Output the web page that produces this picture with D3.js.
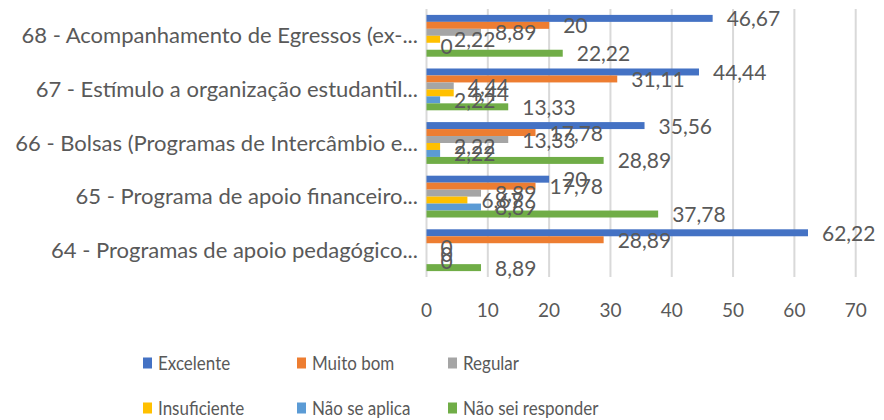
<!DOCTYPE html>
<html><head><meta charset="utf-8">
<script src="https://cdn.jsdelivr.net/npm/d3@7/dist/d3.min.js"></script>
<style>
html,body{margin:0;padding:0;background:#fff;}
svg{display:block;font-family:Lato,"Open Sans",sans-serif;}
</style></head>
<body>
<svg id="chart" width="884" height="420"></svg>
<script>
const categories = [
  "68 - Acompanhamento de Egressos (ex-...",
  "67 - Estímulo a organização estudantil...",
  "66 - Bolsas (Programas de Intercâmbio e...",
  "65 - Programa de apoio financeiro...",
  "64 - Programas de apoio pedagógico..."
];
const seriesNames = ["Excelente","Muito bom","Regular","Insuficiente","Não se aplica","Não sei responder"];
const seriesColors = ["#4472C4","#ED7D31","#A5A5A5","#FFC000","#5B9BD5","#70AD47"];
const excelente      = [46.67, 44.44, 35.56, 20,    62.22];
const muitoBom       = [20,    31.11, 17.78, 17.78, 28.89];
const regular        = [8.89,  4.44,  13.33, 8.89,  0];
const insuficiente   = [2.22,  4.44,  2.22,  6.67,  0];
const naoSeAplica    = [0,     2.22,  2.22,  8.89,  0];
const naoSeiResponder= [22.22, 13.33, 28.89, 37.78, 8.89];
const xTicks = [0,10,20,30,40,50,60,70];

const seriesValues = [excelente, muitoBom, regular, insuficiente, naoSeAplica, naoSeiResponder];
const fmt = v => String(v).replace(".", ",");

const svg = d3.select("#chart");
const x = d3.scaleLinear().domain([0,70]).range([426.5, 855.7]);
const y = d3.scaleBand().domain(categories).range([9, 277]).paddingInner(0.22).paddingOuter(0.11);
const ys = d3.scaleBand().domain(seriesNames).range([0, y.bandwidth()]).padding(0);

const textColor = "#595959";
const gridColor = "#D9D9D9";

// gridlines
svg.append("g").selectAll("line").data(xTicks).join("line")
  .attr("x1", d => x(d)).attr("x2", d => x(d))
  .attr("y1", 9).attr("y2", 277)
  .attr("stroke", gridColor).attr("stroke-width", 2);

// x tick labels
svg.append("g").selectAll("text").data(xTicks).join("text")
  .attr("x", d => x(d)).attr("y", 317)
  .attr("text-anchor", "middle")
  .attr("fill", textColor).attr("font-size", 19)
  .text(d => d);

// category labels
svg.append("g").selectAll("text").data(categories).join("text")
  .attr("x", 418).attr("y", d => y(d) + y.bandwidth()/2 + 7.5)
  .attr("text-anchor", "end")
  .attr("fill", textColor).attr("font-size", 22)
  .text(d => d);

// bars
const rows = [];
categories.forEach((c, ci) => {
  seriesNames.forEach((s, si) => rows.push({c, s, si, v: seriesValues[si][ci]}));
});

svg.append("g").selectAll("rect").data(rows).join("rect")
  .attr("x", x(0))
  .attr("y", d => y(d.c) + ys(d.s))
  .attr("width", d => x(d.v) - x(0))
  .attr("height", ys.bandwidth())
  .attr("fill", d => seriesColors[d.si]);

// data labels
svg.append("g").selectAll("text").data(rows).join("text")
  .attr("x", d => x(d.v) + 14)
  .attr("y", d => y(d.c) + ys(d.s) + ys.bandwidth()/2 + 8)
  .attr("fill", textColor).attr("font-size", 21)
  .text(d => fmt(d.v));

// legend
const legX = [143, 297, 448];
const legY = [363, 408];
const leg = svg.append("g").selectAll("g").data(seriesNames).join("g")
  .attr("transform", (d,i) => `translate(${legX[i%3]},${legY[Math.floor(i/3)]})`);
leg.append("rect").attr("x", 0).attr("y", -5.5).attr("width", 9).attr("height", 11)
  .attr("fill", (d,i) => seriesColors[i]);
leg.append("text").attr("transform", "translate(15,7) scale(1,1.12)")
  .attr("fill", textColor).attr("font-size", 17)
  .text(d => d);
</script>
</body></html>
